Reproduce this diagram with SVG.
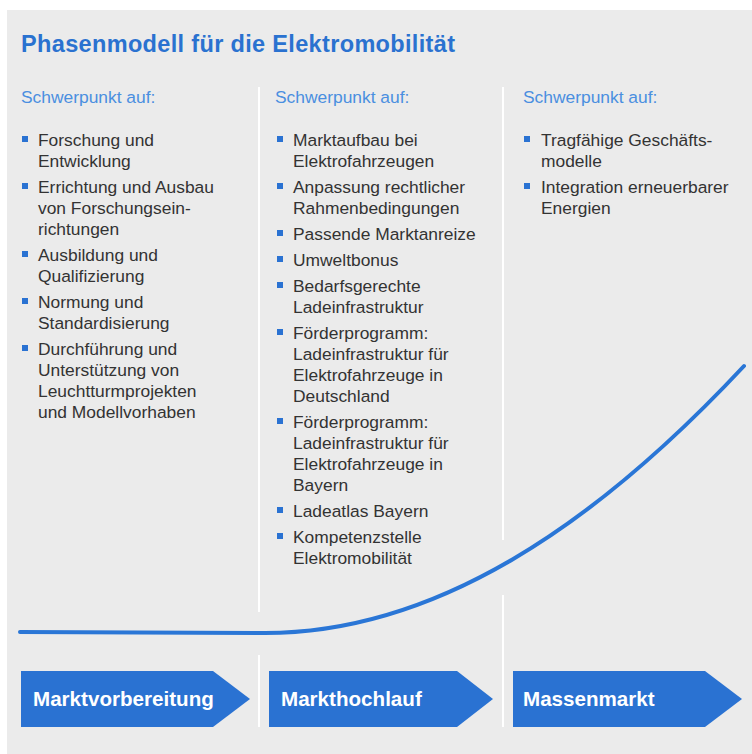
<svg xmlns="http://www.w3.org/2000/svg" width="752" height="754" viewBox="0 0 752 754">
<style>
.t{font-family:"Liberation Sans",Arial,sans-serif;font-size:17.4px;fill:#333}
.h{font-family:"Liberation Sans",Arial,sans-serif;font-size:17.4px;fill:#4a8fe0}
.a{font-family:"Liberation Sans",Arial,sans-serif;font-size:20.6px;font-weight:bold;fill:#fff}
.b{fill:#2a72d2}
.d{stroke:#fff;stroke-width:2;fill:none}
</style>
<rect x="0" y="0" width="752" height="754" fill="#fff"/>
<rect x="7" y="10" width="745" height="744" fill="#ebebeb"/>
<text x="21" y="52" font-family="Liberation Sans,Arial,sans-serif" font-size="23.5" font-weight="bold" fill="#2a72d0" textLength="434" lengthAdjust="spacing">Phasenmodell für die Elektromobilität</text>
<g id="dividers">
<path class="d" d="M259,87V612M259,655V727M503,87V540M503,595V727"/>
</g>
<g id="col1">
<text class="h" x="21" y="103">Schwerpunkt auf:</text>
<rect class="b" x="22" y="136" width="6" height="6"/>
<text class="t" x="38" y="146">Forschung und</text>
<text class="t" x="38" y="167">Entwicklung</text>
<rect class="b" x="22" y="183" width="6" height="6"/>
<text class="t" x="38" y="193">Errichtung und Ausbau</text>
<text class="t" x="38" y="214">von Forschungsein-</text>
<text class="t" x="38" y="235">richtungen</text>
<rect class="b" x="22" y="251" width="6" height="6"/>
<text class="t" x="38" y="261">Ausbildung und</text>
<text class="t" x="38" y="282">Qualifizierung</text>
<rect class="b" x="22" y="298" width="6" height="6"/>
<text class="t" x="38" y="308">Normung und</text>
<text class="t" x="38" y="329">Standardisierung</text>
<rect class="b" x="22" y="345" width="6" height="6"/>
<text class="t" x="38" y="355">Durchführung und</text>
<text class="t" x="38" y="376">Unterstützung von</text>
<text class="t" x="38" y="397">Leuchtturmprojekten</text>
<text class="t" x="38" y="418">und Modellvorhaben</text>
</g>
<g id="col2">
<text class="h" x="275" y="103">Schwerpunkt auf:</text>
<rect class="b" x="277" y="136" width="6" height="6"/>
<text class="t" x="293" y="146">Marktaufbau bei</text>
<text class="t" x="293" y="167">Elektrofahrzeugen</text>
<rect class="b" x="277" y="183" width="6" height="6"/>
<text class="t" x="293" y="193">Anpassung rechtlicher</text>
<text class="t" x="293" y="214">Rahmenbedingungen</text>
<rect class="b" x="277" y="230" width="6" height="6"/>
<text class="t" x="293" y="240">Passende Marktanreize</text>
<rect class="b" x="277" y="256" width="6" height="6"/>
<text class="t" x="293" y="266">Umweltbonus</text>
<rect class="b" x="277" y="282" width="6" height="6"/>
<text class="t" x="293" y="292">Bedarfsgerechte</text>
<text class="t" x="293" y="313">Ladeinfrastruktur</text>
<rect class="b" x="277" y="329" width="6" height="6"/>
<text class="t" x="293" y="339">Förderprogramm:</text>
<text class="t" x="293" y="360">Ladeinfrastruktur für</text>
<text class="t" x="293" y="381">Elektrofahrzeuge in</text>
<text class="t" x="293" y="402">Deutschland</text>
<rect class="b" x="277" y="418" width="6" height="6"/>
<text class="t" x="293" y="428">Förderprogramm:</text>
<text class="t" x="293" y="449">Ladeinfrastruktur für</text>
<text class="t" x="293" y="470">Elektrofahrzeuge in</text>
<text class="t" x="293" y="491">Bayern</text>
<rect class="b" x="277" y="507" width="6" height="6"/>
<text class="t" x="293" y="517">Ladeatlas Bayern</text>
<rect class="b" x="277" y="533" width="6" height="6"/>
<text class="t" x="293" y="543">Kompetenzstelle</text>
<text class="t" x="293" y="564">Elektromobilität</text>
</g>
<g id="col3">
<text class="h" x="523" y="103">Schwerpunkt auf:</text>
<rect class="b" x="524" y="136" width="6" height="6"/>
<text class="t" x="541" y="146">Tragfähige Geschäfts-</text>
<text class="t" x="541" y="167">modelle</text>
<rect class="b" x="524" y="183" width="6" height="6"/>
<text class="t" x="541" y="193">Integration erneuerbarer</text>
<text class="t" x="541" y="214">Energien</text>
</g>
<g id="connectors">
<path d="M20,632 L265,633 C435,633 594,526.5 744,366" fill="none" stroke="#2a76d6" stroke-width="4" stroke-linecap="round"/>
</g>
<g id="phase1">
<path class="b" d="M21,671H213L250,699L213,727H21Z"/>
<text class="a" x="33" y="706">Marktvorbereitung</text>
</g>
<g id="phase2">
<path class="b" d="M269,671H457L493,699L457,727H269Z"/>
<text class="a" x="281" y="706">Markthochlauf</text>
</g>
<g id="phase3">
<path class="b" d="M513,671H705L742,699L705,727H513Z"/>
<text class="a" x="523" y="706">Massenmarkt</text>
</g>
</svg>
